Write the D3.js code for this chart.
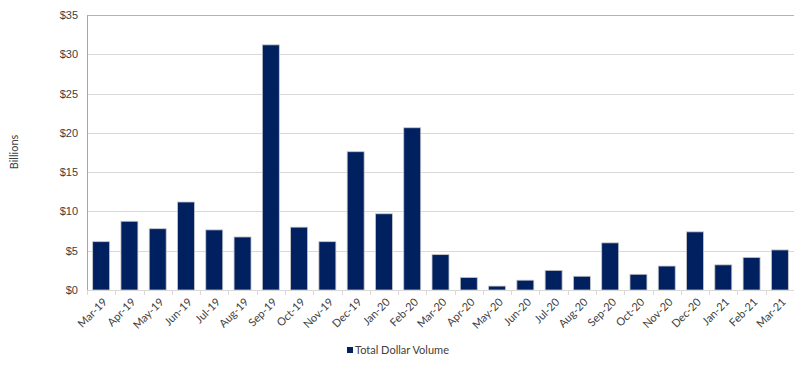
<!DOCTYPE html>
<html>
<head>
<meta charset="utf-8">
<script src="https://cdn.jsdelivr.net/npm/d3@7"></script>
<style>
  html, body { margin: 0; padding: 0; background: #fff; }
  svg { display: block; font-family: Lato, "Open Sans", "Liberation Sans", sans-serif; }
</style>
</head>
<body>
<svg id="chart" width="794" height="370"></svg>
<script>
// Monthly total dollar volume, in billions of dollars
const months = ["Mar-19","Apr-19","May-19","Jun-19","Jul-19","Aug-19","Sep-19","Oct-19","Nov-19","Dec-19",
  "Jan-20","Feb-20","Mar-20","Apr-20","May-20","Jun-20","Jul-20","Aug-20","Sep-20","Oct-20","Nov-20","Dec-20",
  "Jan-21","Feb-21","Mar-21"];
const volume = [6.15, 8.75, 7.8, 11.2, 7.65, 6.75, 31.2, 8.0, 6.15, 17.6,
  9.7, 20.65, 4.5, 1.6, 0.5, 1.25, 2.5, 1.75, 6.0, 2.0, 3.05, 7.4,
  3.2, 4.15, 5.1];
const yTicks = [0, 5, 10, 15, 20, 25, 30, 35];
const seriesName = "Total Dollar Volume";

const svg = d3.select("#chart");
const margin = { top: 15, right: 0, bottom: 80, left: 87 };
const W = 794, H = 370;
const plotW = W - margin.left - margin.right;
const plotH = H - margin.top - margin.bottom;
const barColor = "#002060";
const textColor = "#404040";
const fontSize = "11px";

const x = d3.scaleBand().domain(months).range([0, plotW]).paddingInner(0.4).paddingOuter(0.2);
const y = d3.scaleLinear().domain([0, 35]).range([plotH, 0]);

const g = svg.append("g").attr("transform", `translate(${margin.left},${margin.top})`);

// horizontal gridlines
g.append("g").selectAll("line").data(yTicks.filter(d => d > 0)).join("line")
  .attr("x1", 0).attr("x2", plotW)
  .attr("y1", d => Math.round(y(d)) + 0.5).attr("y2", d => Math.round(y(d)) + 0.5)
  .attr("stroke", d => d === 35 ? "#b3b3b3" : "#d9d9d9").attr("stroke-width", 1);

// y axis
const yAxis = g.append("g").call(d3.axisLeft(y).tickValues(yTicks).tickSize(0).tickPadding(9)
  .tickFormat(d => "$" + d));
yAxis.select(".domain").attr("stroke", "#a6a6a6");
yAxis.selectAll("text").attr("fill", textColor).style("font-size", fontSize);

// bars
g.append("g").selectAll("rect").data(volume).join("rect")
  .attr("x", (d, i) => x(months[i]))
  .attr("y", d => y(d))
  .attr("width", x.bandwidth())
  .attr("height", d => plotH - y(d))
  .attr("fill", barColor)
  .attr("stroke", "#c8c8c8").attr("stroke-width", 0.8);

// x axis with ticks at category boundaries
const xAxisG = g.append("g").attr("transform", `translate(0,${plotH})`);
xAxisG.append("line").attr("x1", 0).attr("x2", plotW).attr("y1", 0.5).attr("y2", 0.5)
  .attr("stroke", "#d9d9d9");
const boundaries = d3.range(months.length + 1).map(i => i * plotW / months.length);
xAxisG.selectAll("line.tick").data(boundaries).join("line").attr("class", "tick")
  .attr("x1", d => Math.round(d) + 0.5).attr("x2", d => Math.round(d) + 0.5)
  .attr("y1", 0).attr("y2", 5).attr("stroke", "#d9d9d9");
xAxisG.selectAll("text").data(months).join("text")
  .attr("transform", d => `translate(${x(d) + x.bandwidth() / 2 + 4},${10}) rotate(-45)`)
  .attr("text-anchor", "end")
  .attr("dy", "0.35em")
  .attr("fill", textColor)
  .style("font-size", fontSize)
  .text(d => d);

// y axis title
svg.append("text")
  .attr("transform", "translate(18,152) rotate(-90)")
  .attr("text-anchor", "middle")
  .attr("fill", textColor)
  .style("font-size", fontSize)
  .text("Billions");

// legend
const legend = svg.append("g").attr("transform", "translate(347,350)");
legend.append("rect").attr("x", 0).attr("y", -3).attr("width", 6).attr("height", 6).attr("fill", barColor);
legend.append("text").attr("x", 8).attr("y", 0).attr("dy", "0.35em")
  .attr("fill", textColor).style("font-size", fontSize).text(seriesName);
</script>
</body>
</html>
